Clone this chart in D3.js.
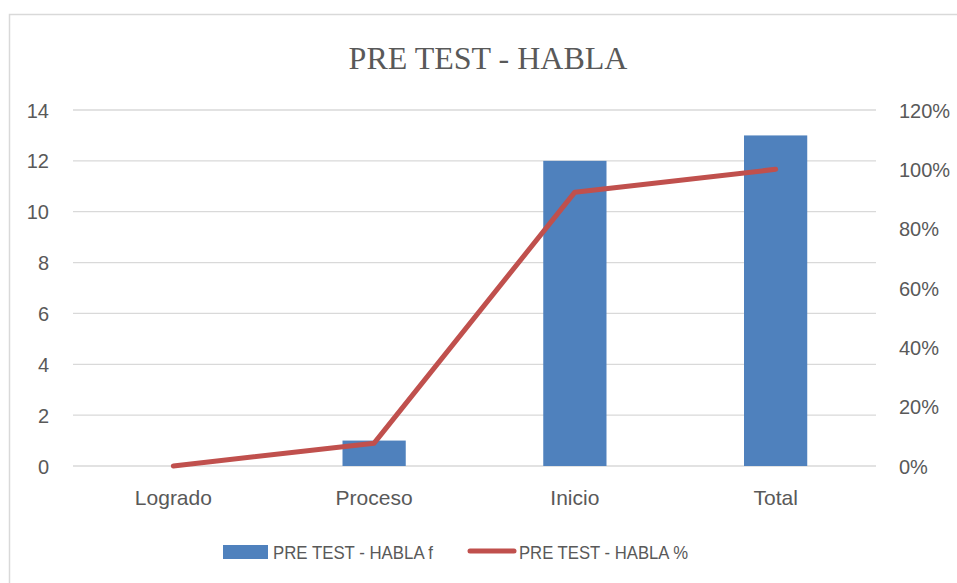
<!DOCTYPE html>
<html>
<head>
<meta charset="utf-8">
<script src="https://cdn.jsdelivr.net/npm/d3@7"></script>
<style>
  body { margin: 0; background: #fff; }
  text { font-family: "Liberation Sans", Arial, sans-serif; fill: #595959; }
</style>
</head>
<body>
<div id="chart"></div>
<script>
// data
var categories = ['Logrado', 'Proceso', 'Inicio', 'Total']
var freq = [0, 1, 12, 13]
var pct = [0, 0.077, 0.923, 1.0]
var leftTicks = [0, 2, 4, 6, 8, 10, 12, 14]
var rightTicks = [0, 0.2, 0.4, 0.6, 0.8, 1.0, 1.2]

var width = 957, height = 583
var plot = {left: 73, right: 876, top: 110, bottom: 466}

var svg = d3.select('#chart').append('svg')
    .attr('width', width)
    .attr('height', height)

// chart border
svg.append('rect')
    .attr('x', 9.5).attr('y', 14.5)
    .attr('width', 960).attr('height', 600)
    .attr('fill', 'none')
    .attr('stroke', '#d9d9d9')
    .attr('stroke-width', 1.5)

var x = d3.scaleBand()
    .domain(categories)
    .range([plot.left, plot.right])
    .paddingInner(0.685)
    .paddingOuter(0.3425)

var y = d3.scaleLinear().domain([0, 14]).range([plot.bottom, plot.top])
var y2 = d3.scaleLinear().domain([0, 1.2]).range([plot.bottom, plot.top])

// gridlines
svg.append('g').selectAll('line')
    .data(leftTicks)
    .enter().append('line')
    .attr('x1', plot.left).attr('x2', plot.right)
    .attr('y1', d => y(d)).attr('y2', d => y(d))
    .attr('stroke', '#d9d9d9')
    .attr('stroke-width', 1.3)

// left axis labels
var yAxis = d3.axisLeft(y).tickValues(leftTicks).tickSize(0).tickPadding(0)
var gl = svg.append('g').attr('transform', 'translate(49,0)').call(yAxis)
gl.select('.domain').remove()
gl.selectAll('text').attr('font-size', 20).style('font-family', null).attr('dy', '0.35em')

// right axis labels
var y2Axis = d3.axisRight(y2).tickValues(rightTicks).tickSize(0).tickPadding(0)
    .tickFormat(d3.format('.0%'))
var gr = svg.append('g').attr('transform', 'translate(899,0)').call(y2Axis)
gr.select('.domain').remove()
gr.selectAll('text').attr('font-size', 20).style('font-family', null).attr('dy', '0.35em')

// category labels
var xAxis = d3.axisBottom(x).tickSize(0).tickPadding(0)
var gx = svg.append('g').attr('transform', 'translate(0,' + 490 + ')').call(xAxis)
gx.select('.domain').remove()
gx.selectAll('text').attr('font-size', 21).style('font-family', null).attr('dy', '0.72em')

// bars
svg.append('g').selectAll('rect')
    .data(freq)
    .enter().append('rect')
    .attr('x', (d, i) => x(categories[i]))
    .attr('width', x.bandwidth())
    .attr('y', d => y(d))
    .attr('height', d => y(0) - y(d))
    .attr('fill', '#4f81bd')

// line
var line = d3.line()
    .x((d, i) => x(categories[i]) + x.bandwidth() / 2)
    .y(d => y2(d))

svg.append('path')
    .datum(pct)
    .attr('d', line)
    .attr('fill', 'none')
    .attr('stroke', '#c0504d')
    .attr('stroke-width', 5)
    .attr('stroke-linecap', 'round')
    .attr('stroke-linejoin', 'round')

// title
svg.append('text')
    .attr('x', 488).attr('y', 69)
    .attr('text-anchor', 'middle')
    .attr('font-size', 32)
    .style('font-family', '"Liberation Serif", "Times New Roman", serif')
    .text('PRE TEST - HABLA')

// legend
var leg = svg.append('g')
leg.append('rect')
    .attr('x', 223).attr('y', 545)
    .attr('width', 45).attr('height', 14)
    .attr('fill', '#4f81bd')
leg.append('text')
    .attr('x', 273).attr('y', 559)
    .attr('font-size', 19)
    .attr('textLength', 160)
    .attr('lengthAdjust', 'spacingAndGlyphs')
    .text('PRE TEST - HABLA f')
leg.append('line')
    .attr('x1', 470).attr('x2', 514)
    .attr('y1', 551).attr('y2', 551)
    .attr('stroke', '#c0504d')
    .attr('stroke-width', 5)
    .attr('stroke-linecap', 'round')
leg.append('text')
    .attr('x', 519).attr('y', 559)
    .attr('font-size', 19)
    .attr('textLength', 169)
    .attr('lengthAdjust', 'spacingAndGlyphs')
    .text('PRE TEST - HABLA %')
</script>
</body>
</html>
